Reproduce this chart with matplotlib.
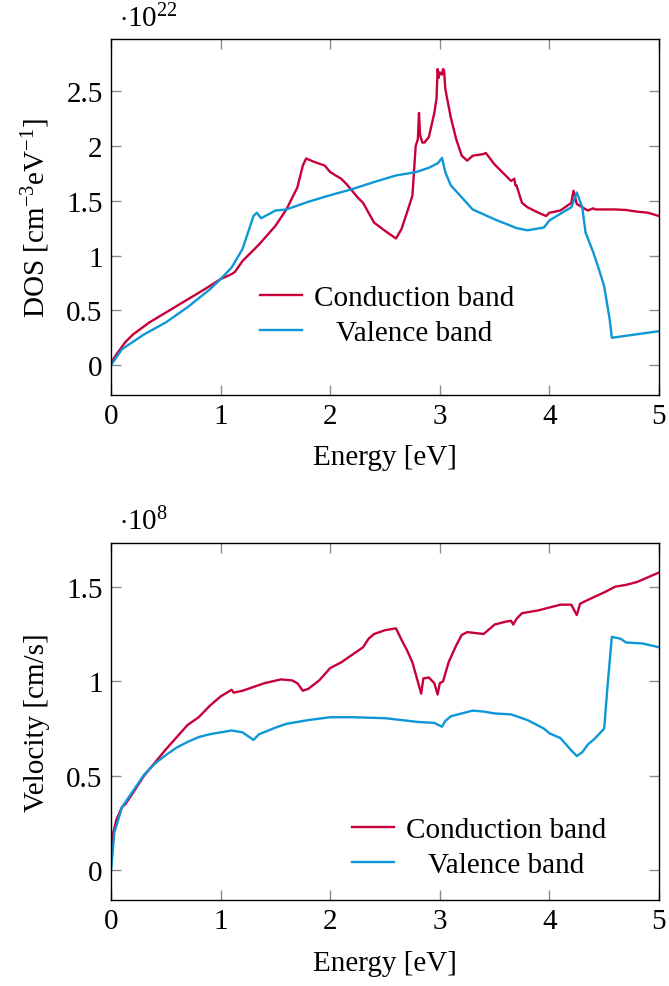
import matplotlib
matplotlib.use("Agg")
import matplotlib.pyplot as plt
from matplotlib.transforms import Affine2D

plt.rcParams["font.family"] = ["Liberation Serif", "DejaVu Serif"]
plt.rcParams["mathtext.fontset"] = "custom"
plt.rcParams["mathtext.rm"] = "Liberation Serif"
plt.rcParams["mathtext.it"] = "Liberation Serif:italic"
plt.rcParams["font.size"] = 21

RED = "#C8003A"
BLUE = "#0C97D7"

# DOS, in units of 1e22 cm^-3 eV^-1
dos_cb_e = [0.0, 0.05, 0.13, 0.2, 0.35, 0.5, 0.7, 0.85, 1.0, 1.1, 1.13, 1.2, 1.35, 1.5, 1.6, 1.7,
            1.75, 1.78, 1.85, 1.95, 2.0, 2.1, 2.15, 2.25, 2.3, 2.35, 2.4, 2.5, 2.6, 2.65, 2.7,
            2.75, 2.78, 2.8, 2.81, 2.82, 2.84, 2.86, 2.9, 2.95, 2.97, 2.98, 2.99, 3.0, 3.02,
            3.03, 3.04, 3.05, 3.1, 3.15, 3.2, 3.25, 3.3, 3.4, 3.42, 3.5, 3.6, 3.65, 3.68, 3.69,
            3.7, 3.75, 3.8, 3.9, 3.97, 4.0, 4.1, 4.2, 4.22, 4.25, 4.3, 4.35, 4.4, 4.42, 4.5,
            4.6, 4.7, 4.8, 4.9, 5.0]
dos_cb = [0.02, 0.1, 0.21, 0.28, 0.39, 0.48, 0.60, 0.69, 0.785, 0.83, 0.85, 0.95, 1.10, 1.27,
          1.42, 1.62, 1.82, 1.885, 1.855, 1.82, 1.76, 1.70, 1.65, 1.53, 1.48, 1.39, 1.30,
          1.225, 1.155, 1.24, 1.39, 1.545, 2.0, 2.06, 2.30, 2.10, 2.03, 2.03, 2.08, 2.30,
          2.43, 2.70, 2.62, 2.67, 2.65, 2.70, 2.68, 2.52, 2.26, 2.06, 1.91, 1.865, 1.91, 1.925,
          1.935, 1.83, 1.73, 1.68, 1.70, 1.64, 1.64, 1.48, 1.44, 1.39, 1.36, 1.39, 1.41, 1.48,
          1.59, 1.47, 1.44, 1.41, 1.43, 1.42, 1.42, 1.42, 1.415, 1.40, 1.39, 1.36]

dos_vb_e = [0.0, 0.1, 0.3, 0.5, 0.7, 0.9, 1.0, 1.1, 1.2, 1.25, 1.3, 1.33, 1.37, 1.5, 1.6, 1.8,
            2.0, 2.2, 2.4, 2.6, 2.78, 2.9, 2.98, 3.02, 3.05, 3.1, 3.2, 3.3, 3.5, 3.7, 3.8, 3.95,
            4.0, 4.1, 4.2, 4.25, 4.3, 4.33, 4.4, 4.45, 4.5, 4.55, 4.57, 5.0]
dos_vb = [0.0, 0.146, 0.28, 0.39, 0.53, 0.69, 0.785, 0.89, 1.06, 1.21, 1.36, 1.39, 1.34, 1.41,
          1.42, 1.49, 1.55, 1.605, 1.67, 1.73, 1.76, 1.80, 1.84, 1.89, 1.76, 1.64, 1.53, 1.42,
          1.33, 1.25, 1.23, 1.255, 1.32, 1.38, 1.44, 1.575, 1.44, 1.21, 1.03, 0.88, 0.72, 0.42,
          0.25, 0.31]

# Velocity, in units of 1e8 cm/s
vel_cb_e = [0.0, 0.02, 0.05, 0.1, 0.13, 0.2, 0.3, 0.4, 0.5, 0.6, 0.7, 0.8, 0.9, 1.0, 1.1, 1.12,
            1.2, 1.4, 1.55, 1.65, 1.7, 1.75, 1.8, 1.9, 2.0, 2.1, 2.2, 2.3, 2.35, 2.4, 2.5, 2.6,
            2.65, 2.7, 2.75, 2.8, 2.83, 2.85, 2.9, 2.95, 2.98, 3.0, 3.03, 3.08, 3.15, 3.2, 3.25,
            3.4, 3.5, 3.6, 3.65, 3.67, 3.7, 3.75, 3.9, 4.0, 4.1, 4.2, 4.25, 4.28, 4.35, 4.5, 4.6,
            4.7, 4.8, 4.9, 5.0]
vel_cb = [0.1, 0.2, 0.27, 0.335, 0.35, 0.41, 0.50, 0.57, 0.64, 0.705, 0.77, 0.81, 0.87, 0.92,
          0.955, 0.94, 0.95, 0.99, 1.01, 1.005, 0.99, 0.95, 0.96, 1.005, 1.07, 1.10, 1.14, 1.18,
          1.225, 1.25, 1.27, 1.28, 1.22, 1.165, 1.10, 0.997, 0.935, 1.015, 1.02, 0.99, 0.93,
          0.99, 1.0, 1.10, 1.19, 1.245, 1.26, 1.25, 1.30, 1.315, 1.32, 1.30, 1.33, 1.36,
          1.375, 1.39, 1.405, 1.405, 1.35, 1.41, 1.43, 1.47, 1.50, 1.51, 1.525, 1.55, 1.575]

vel_vb_e = [0.0, 0.03, 0.1, 0.2, 0.3, 0.4, 0.5, 0.6, 0.7, 0.8, 0.9, 1.0, 1.1, 1.2, 1.3, 1.35,
            1.5, 1.6, 1.8, 2.0, 2.2, 2.5, 2.8, 2.95, 3.02, 3.05, 3.1, 3.2, 3.3, 3.4, 3.5, 3.65,
            3.8, 3.95, 4.0, 4.1, 4.2, 4.25, 4.3, 4.35, 4.42, 4.5, 4.53, 4.57, 4.65, 4.7, 4.85,
            5.0]
vel_vb = [0.0, 0.2, 0.335, 0.42, 0.505, 0.565, 0.61, 0.65, 0.68, 0.705, 0.72, 0.73, 0.74, 0.73,
          0.69, 0.72, 0.755, 0.775, 0.795, 0.81, 0.81, 0.805, 0.785, 0.78, 0.76, 0.79, 0.815,
          0.83, 0.845, 0.84, 0.83, 0.825, 0.795, 0.75, 0.725, 0.70, 0.635, 0.605, 0.625, 0.665,
          0.70, 0.75, 0.97, 1.235, 1.225, 1.205, 1.20, 1.18]

labels = ["Conduction band", "Valence band"]


def style_axes(ax):
    ax.set_xlim(0, 5)
    ax.set_xticks([0, 1, 2, 3, 4, 5])
    ax.tick_params(direction="in", length=7, width=1, color="#8a8a8a",
                   top=True, right=True, pad=6)
    for s in ax.spines.values():
        s.set_linewidth(1)


def centered_legend(fig, ax, anchor):
    leg = ax.legend(labels, loc="center left", bbox_to_anchor=anchor, frameon=False,
                    handlelength=1.45, handletextpad=0.4, labelspacing=0.3,
                    borderpad=0, borderaxespad=0)
    fig.canvas.draw()
    texts = leg.get_texts()
    widths = [t.get_window_extent().width for t in texts]
    wmax = max(widths)
    for t, w in zip(texts, widths):
        t.set_transform(t.get_transform() + Affine2D().translate((wmax - w) / 2, 0))
    return leg


fig = plt.figure(figsize=(6.69, 9.87), dpi=100)
ax1 = fig.add_axes([0.166, 0.599, 0.819, 0.360])
ax2 = fig.add_axes([0.166, 0.087, 0.819, 0.362])

ax1.plot(dos_cb_e, dos_cb, color=RED, lw=1.7)
ax1.plot(dos_vb_e, dos_vb, color=BLUE, lw=1.7)
style_axes(ax1)
ax1.set_ylim(-0.27, 2.97)
ax1.set_yticks([0, 0.5, 1, 1.5, 2, 2.5])
ax1.set_yticklabels(["0", "0.5", "1", "1.5", "2", "2.5"])
ax1.set_xlabel("Energy [eV]", labelpad=11)
ax1.set_ylabel(r"DOS [cm$^{-3}$eV$^{-1}$]", labelpad=10)
ax1.text(0.015, 1.02, r"$\cdot 10^{22}$", transform=ax1.transAxes, ha="left", va="bottom")

ax2.plot(vel_cb_e, vel_cb, color=RED, lw=1.7)
ax2.plot(vel_vb_e, vel_vb, color=BLUE, lw=1.7)
style_axes(ax2)
ax2.set_ylim(-0.157, 1.732)
ax2.set_yticks([0, 0.5, 1, 1.5])
ax2.set_yticklabels(["0", "0.5", "1", "1.5"])
ax2.set_xlabel("Energy [eV]", labelpad=11)
ax2.set_ylabel("Velocity [cm/s]", labelpad=12)
ax2.text(0.015, 1.02, r"$\cdot 10^{8}$", transform=ax2.transAxes, ha="left", va="bottom")

centered_legend(fig, ax1, (0.272, 0.223))
centered_legend(fig, ax2, (0.44, 0.147))

fig.savefig("out.png", dpi=100)
